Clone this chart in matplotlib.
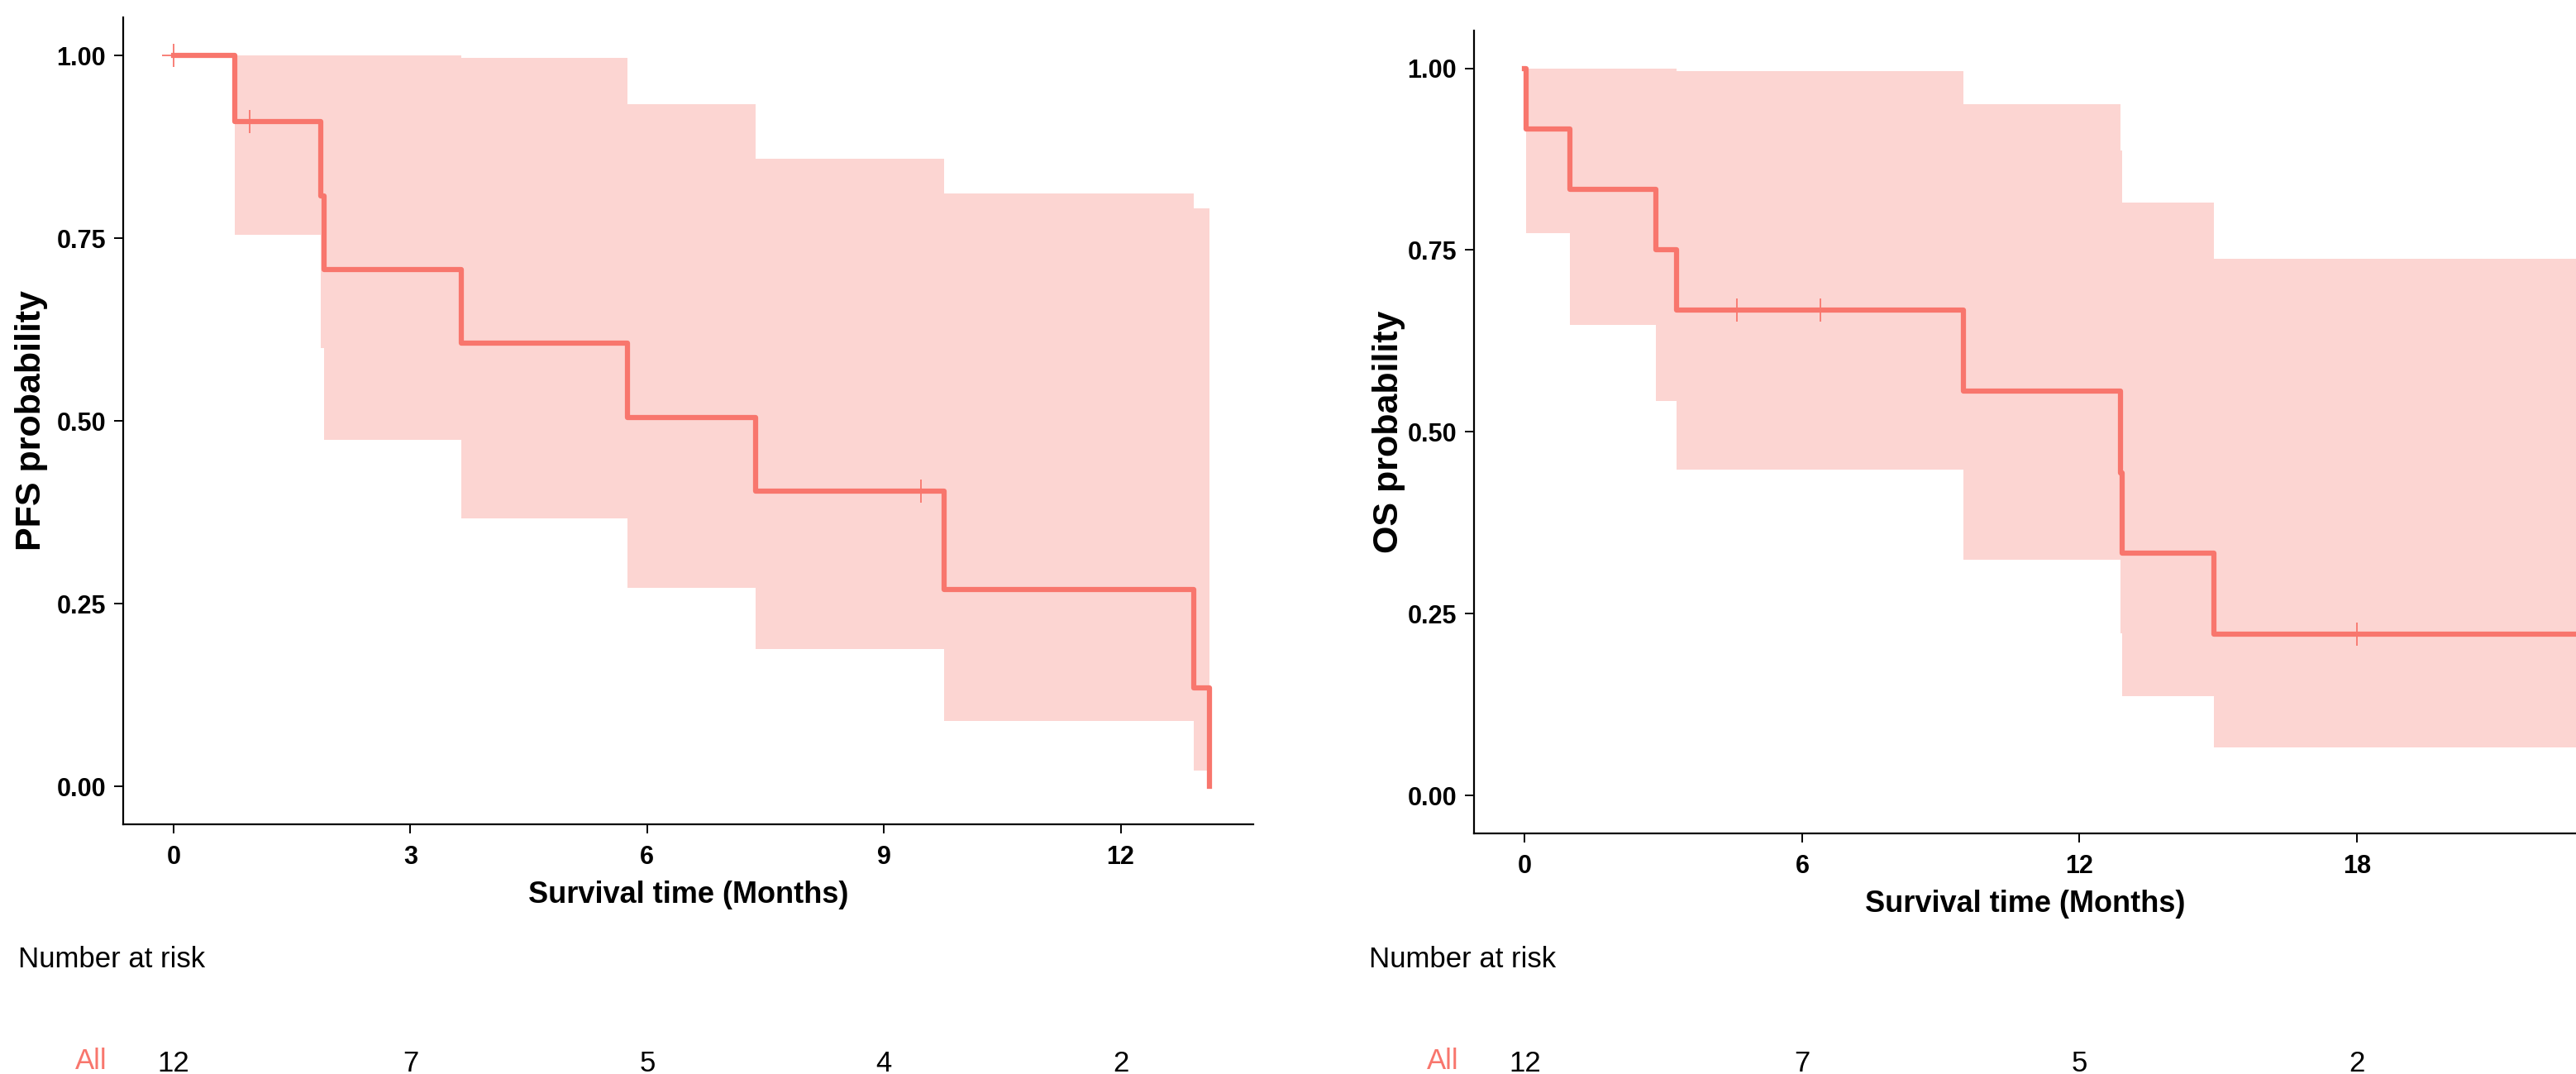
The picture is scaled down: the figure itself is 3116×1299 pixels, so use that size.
import matplotlib
matplotlib.use("Agg")
import matplotlib.pyplot as plt
import matplotlib.transforms as mtransforms
import numpy as np

plt.rcParams['font.family'] = ['Liberation Sans', 'DejaVu Sans']

# PFS curve (step times, survival, CI)
pfs_time = [0, 0.77, 1.86, 1.91, 3.65, 5.75, 7.37, 9.76, 12.93, 13.13]
pfs_surv = [1.0, 0.909, 0.808, 0.707, 0.606, 0.505, 0.404, 0.269, 0.135, 0.0]
pfs_upper = [1.0, 1.0, 1.0, 1.0, 0.997, 0.933, 0.859, 0.811, 0.791, 0.791]
pfs_lower = [1.0, 0.755, 0.600, 0.474, 0.366, 0.272, 0.188, 0.089, 0.021, 0.021]
pfs_cens_t = [0, 0.96, 9.47]
pfs_cens_s = [1.0, 0.909, 0.404]
pfs_risk_t = [0, 3, 6, 9, 12]
pfs_risk_n = [12, 7, 5, 4, 2]

# OS curve
os_time = [0, 0.03, 0.98, 2.84, 3.29, 9.48, 12.89, 12.93, 14.91, 24.0]
os_surv = [1.0, 0.917, 0.833, 0.75, 0.667, 0.556, 0.444, 0.333, 0.222, 0.222]
os_upper = [1.0, 1.0, 1.0, 1.0, 0.996, 0.950, 0.887, 0.815, 0.738, 0.738]
os_lower = [1.0, 0.773, 0.647, 0.543, 0.448, 0.324, 0.223, 0.137, 0.066, 0.066]
os_cens_t = [4.59, 6.40, 18.0]
os_cens_s = [0.667, 0.667, 0.222]
os_risk_t = [0, 6, 12, 18]
os_risk_n = [12, 7, 5, 2]

col = '#F8766D'

fig = plt.figure(figsize=(31.16, 12.99), dpi=100)


def km_panel(ax, t, s, lo, up, ct, cs, xticks, xlim, ylab, rt, rn, risk_x, all_x):
    ax.fill_between(t, lo, up, step='post', color=col, alpha=0.3, lw=0)
    ax.step(t, s, where='post', color=col, lw=4.5)
    ax.plot(ct, cs, ls='none', marker='+', ms=20, mew=1.3, color=col)

    ax.set_xlim(xlim)
    ax.set_ylim(-0.052, 1.052)
    ax.set_xticks(xticks)
    ax.set_yticks([0, 0.25, 0.5, 0.75, 1.0])
    ax.set_yticklabels(['%.2f' % v for v in [0, 0.25, 0.5, 0.75, 1.0]])
    for sp in ['top', 'right']:
        ax.spines[sp].set_visible(False)
    for sp in ['left', 'bottom']:
        ax.spines[sp].set_linewidth(1.6)
    ax.tick_params(axis='both', length=8, width=1.4, labelsize=22, pad=7)
    ax.tick_params(axis='x', pad=10)
    for lab in ax.get_xticklabels() + ax.get_yticklabels():
        lab.set_fontweight('bold')

    ax.set_xlabel('Survival time (Months)', fontsize=26, fontweight='bold')
    ax.xaxis.label.set_va('center')
    ax.xaxis.set_label_coords(0.5, -0.088)
    ax.set_ylabel(ylab, fontsize=31, fontweight='bold')
    ax.yaxis.label.set_va('center')

    # number at risk table
    fig.text(risk_x, 0.0993, 'Number at risk', fontsize=25, ha='left', va='baseline')
    fig.text(all_x, 0.0046, 'All', fontsize=25, color=col, ha='right', va='baseline')
    trans = mtransforms.blended_transform_factory(ax.transData, fig.transFigure)
    for x, n in zip(rt, rn):
        ax.text(x, 0.0025, str(n), fontsize=25, ha='center', va='baseline',
                transform=trans, clip_on=False)


ax1 = fig.add_axes([0.0478, 0.2325, 0.4387, 0.7513])
km_panel(ax1, pfs_time, pfs_surv, pfs_lower, pfs_upper, pfs_cens_t, pfs_cens_s,
         [0, 3, 6, 9, 12], (-0.64, 13.68), 'PFS probability',
         pfs_risk_t, pfs_risk_n, 0.0071, 0.0417)
ax1.yaxis.set_label_coords(-0.081, 0.5)

# the OS panel is cut at the right edge, so the 24-month tick is not shown
ax2 = fig.add_axes([0.5722, 0.224, 0.4278, 0.7477])
km_panel(ax2, os_time, os_surv, os_lower, os_upper, os_cens_t, os_cens_s,
         [0, 6, 12, 18], (-1.10, 22.74), 'OS probability',
         os_risk_t, os_risk_n, 0.5315, 0.5664)
ax2.yaxis.set_label_coords(-0.077, 0.5)

plt.savefig('out.png', dpi=100)
